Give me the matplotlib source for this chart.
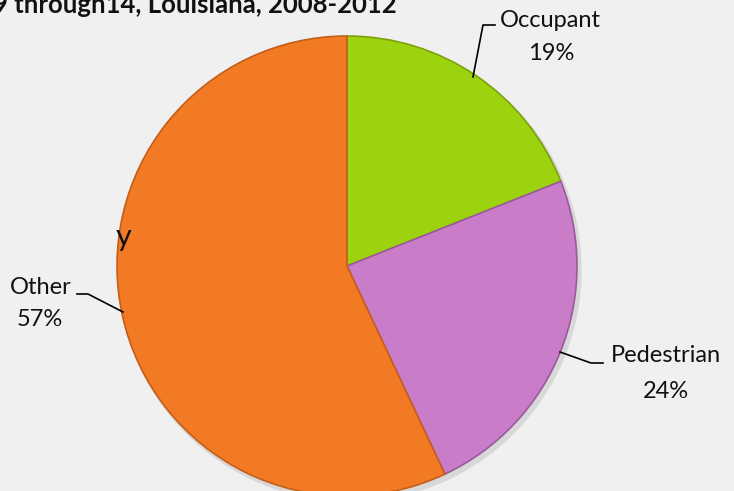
import matplotlib.pyplot as plt
from matplotlib.patches import Circle

# Data
categories = ['Occupant', 'Pedestrian', 'Other']
shares = [19, 24, 57]
colors = ['#9cd20e', '#c97cc8', '#f27a25']
edge_colors = ['#7da20a', '#9a5a9a', '#c45e18']

plt.rcParams['font.family'] = ['Lato', 'DejaVu Sans']

H = 491  # figure height in px, used to flip pixel y into data y

fig = plt.figure(figsize=(7.34, 4.91), dpi=100)
fig.patch.set_facecolor('#f0f0f0')
ax = fig.add_axes([0, 0, 1, 1])
ax.set_facecolor('#f0f0f0')

# soft shadow under the pie
ax.add_patch(Circle((350, H - 270), 231, color='#d8d8d8', zorder=0))

wedges, _ = ax.pie(shares, colors=colors, startangle=90, counterclock=False,
                   center=(347, H - 266), radius=230, frame=True,
                   wedgeprops=dict(linewidth=1.2))
for w, ec in zip(wedges, edge_colors):
    w.set_edgecolor(ec)

ax.set_xlim(0, 734)
ax.set_ylim(0, H)
ax.set_aspect('equal')
ax.axis('off')

# title (cut off at left and top in the original)
ax.text(-7, H - 13, '9 through14, Louisiana, 2008-2012', fontsize=18.5,
        fontweight='bold', ha='left', va='baseline', color='#111111')
ax.text(116, H - 237, 'y', fontsize=22, ha='left', va='center', color='#111111')

label_style = dict(fontsize=17, ha='center', va='center', color='#111111')

# Occupant
ax.plot([473, 483, 495], [H - 77, H - 25, H - 25], color='black', lw=1.2)
ax.text(550, H - 20, categories[0], **label_style)
ax.text(551, H - 53, f'{shares[0]}%', **label_style)

# Pedestrian
ax.plot([560, 591, 603], [H - 352, H - 363, H - 363], color='black', lw=1.2)
ax.text(666, H - 356, categories[1], **label_style)
ax.text(666, H - 391, f'{shares[1]}%', **label_style)

# Other
ax.plot([77, 88, 123], [H - 294, H - 294, H - 312], color='black', lw=1.2)
ax.text(41, H - 287, categories[2], **label_style)
ax.text(40, H - 320, f'{shares[2]}%', **label_style)

fig.savefig('out.png', dpi=100, facecolor=fig.get_facecolor())
